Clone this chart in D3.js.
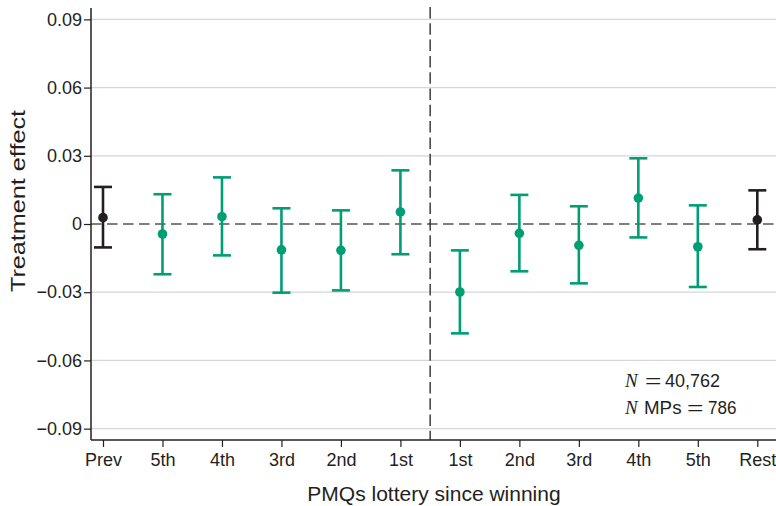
<!DOCTYPE html>
<html>
<head>
<meta charset="utf-8">
<script src="https://cdn.jsdelivr.net/npm/d3@7"></script>
<style>
  html, body { margin: 0; padding: 0; background: #fff; }
  svg { display: block; font-family: "Liberation Sans", Arial, Helvetica, sans-serif; }
</style>
</head>
<body>
<svg id="chart" width="776" height="506"></svg>
<script>
// ---- data ----
const categories = ["Prev", "5th", "4th", "3rd", "2nd", "1st", "1st", "2nd", "3rd", "4th", "5th", "Rest"];
const groups     = ["ref", "pre", "pre", "pre", "pre", "pre", "post", "post", "post", "post", "post", "ref"];
const estimates  = [0.0028, -0.0044, 0.0032, -0.0114, -0.0116, 0.0053, -0.0299, -0.0041, -0.0094, 0.0114, -0.0100, 0.0018];
const upper      = [0.0163, 0.0131, 0.0205, 0.0069, 0.0060, 0.0236, -0.0116, 0.0128, 0.0078, 0.0289, 0.0082, 0.0148];
const lower      = [-0.0103, -0.0221, -0.0138, -0.0302, -0.0292, -0.0133, -0.0481, -0.0208, -0.0261, -0.0059, -0.0277, -0.0111];
const yTicks     = [-0.09, -0.06, -0.03, 0, 0.03, 0.06, 0.09];
const yDomain    = [-0.095, 0.095];
const annotationN   = "40,762";
const annotationMPs = "786";

const data = categories.map((c, i) => ({
  i, cat: c, group: groups[i], est: estimates[i], hi: upper[i], lo: lower[i]
}));

// ---- layout ----
const svg = d3.select("#chart");
const plotLeft = 91, plotRight = 776, plotTop = 8, plotBottom = 440;
const ink = "#231f20";

const x = d3.scaleLinear().domain([0, categories.length - 1]).range([103, 757.3]);
const y = d3.scaleLinear().domain(yDomain).range([plotBottom, plotTop]);

const colorOf = g => g === "ref" ? ink : "#009e73";
const fmt = v => v === 0 ? "0" : (v < 0 ? "\u2212" : "") + Math.abs(v).toFixed(2);

// gridlines
svg.append("g").selectAll("line").data(yTicks.filter(t => t !== 0)).join("line")
  .attr("x1", plotLeft).attr("x2", plotRight)
  .attr("y1", d => y(d)).attr("y2", d => y(d))
  .attr("stroke", "#d6d6d6").attr("stroke-width", 1.2);

// zero dashed line
svg.append("line")
  .attr("x1", plotLeft).attr("x2", plotRight)
  .attr("y1", y(0)).attr("y2", y(0))
  .attr("stroke", "#555").attr("stroke-width", 1.5)
  .attr("stroke-dasharray", "10.5,5.5");

// vertical dashed divider between pre and post
const divX = (x(5) + x(6)) / 2;
svg.append("line")
  .attr("x1", divX).attr("x2", divX)
  .attr("y1", 7).attr("y2", plotBottom)
  .attr("stroke", ink).attr("stroke-width", 1.3)
  .attr("stroke-dasharray", "11.5,4.8");

// y axis
const yAxis = d3.axisLeft(y).tickValues(yTicks).tickFormat(fmt).tickSize(7).tickPadding(2);
const gy = svg.append("g").attr("transform", `translate(${plotLeft},0)`).call(yAxis);
gy.select(".domain").attr("d", `M0,${plotTop}V${plotBottom}`).attr("stroke", ink).attr("stroke-width", 1.5);
gy.selectAll(".tick line").attr("stroke", ink).attr("stroke-width", 1.2);
gy.selectAll(".tick text").attr("font-size", 18).attr("fill", ink)
  .attr("font-family", "'Liberation Sans', Arial, sans-serif");

// x axis
const xAxis = d3.axisBottom(x).tickValues(d3.range(categories.length))
  .tickFormat(i => categories[i]).tickSize(7).tickPadding(6);
const gx = svg.append("g").attr("transform", `translate(0,${plotBottom})`).call(xAxis);
gx.select(".domain").attr("d", `M${plotLeft},0H${plotRight}`).attr("stroke", ink).attr("stroke-width", 1.5);
gx.selectAll(".tick line").attr("stroke", ink).attr("stroke-width", 1.2);
gx.selectAll(".tick text").attr("font-size", 18).attr("fill", ink)
  .attr("font-family", "'Liberation Sans', Arial, sans-serif");

// error bars
const capW = 9;
const bars = svg.append("g").selectAll("g").data(data).join("g")
  .attr("stroke", d => colorOf(d.group)).attr("fill", d => colorOf(d.group));
bars.append("line")
  .attr("x1", d => x(d.i)).attr("x2", d => x(d.i))
  .attr("y1", d => y(d.hi)).attr("y2", d => y(d.lo))
  .attr("stroke-width", 2.6);
bars.append("line")
  .attr("x1", d => x(d.i) - capW).attr("x2", d => x(d.i) + capW)
  .attr("y1", d => y(d.hi)).attr("y2", d => y(d.hi))
  .attr("stroke-width", 2.6);
bars.append("line")
  .attr("x1", d => x(d.i) - capW).attr("x2", d => x(d.i) + capW)
  .attr("y1", d => y(d.lo)).attr("y2", d => y(d.lo))
  .attr("stroke-width", 2.6);
bars.append("circle")
  .attr("cx", d => x(d.i)).attr("cy", d => y(d.est))
  .attr("r", 4.8).attr("stroke", "none");

// axis titles
svg.append("text")
  .attr("x", 434).attr("y", 501)
  .attr("text-anchor", "middle").attr("font-size", 21).attr("fill", ink)
  .text("PMQs lottery since winning");
svg.append("text")
  .attr("transform", `translate(25,201) rotate(-90) scale(1.2,1)`)
  .attr("text-anchor", "middle").attr("font-size", 21).attr("fill", ink)
  .text("Treatment effect");

// annotation
const ann = svg.append("g").attr("fill", ink);
function italicN(xp, yp) {
  ann.append("text").attr("x", xp).attr("y", yp)
    .attr("font-family", "'Liberation Serif', 'Times New Roman', serif")
    .attr("font-style", "italic").attr("font-size", 19).text("N");
}
function piece(xp, yp, txt, len) {
  ann.append("text").attr("x", xp).attr("y", yp)
    .attr("font-size", 17.5).attr("textLength", len).attr("lengthAdjust", "spacingAndGlyphs")
    .text(txt);
}
// line 1
italicN(625, 387);
piece(645, 387, "=", 16.5);
piece(665, 387, annotationN, 55);
// line 2
italicN(625, 414);
piece(644, 414, "MPs", 37.5);
piece(687, 414, "=", 16.5);
piece(708, 414, annotationMPs, 28.5);
</script>
</body>
</html>
